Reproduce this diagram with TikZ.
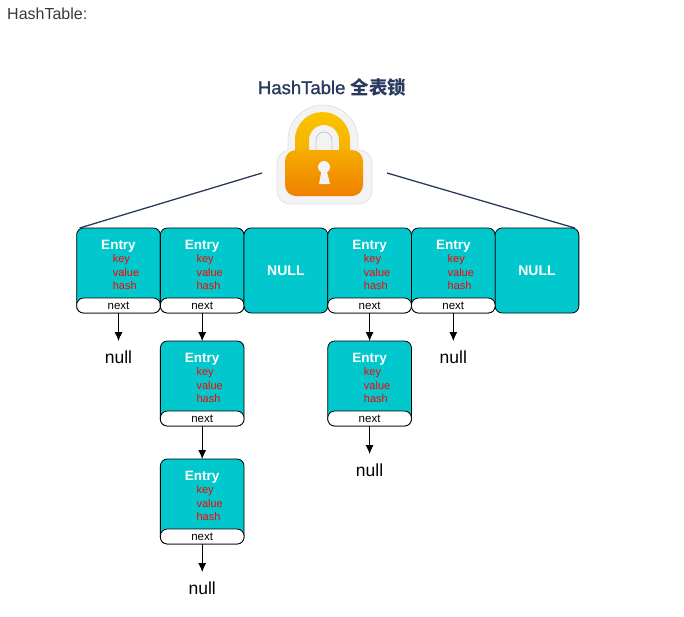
\documentclass[tikz,border=0pt]{standalone}
\usepackage{fontspec}
\setmainfont{Liberation Sans}
\newfontfamily\cjk{Noto Sans CJK SC}
\newfontfamily\titlefont[FakeBold=1.2]{Liberation Sans}
\usetikzlibrary{positioning,arrows.meta}
\definecolor{bucketteal}{HTML}{00C8CC}
\definecolor{titleblue}{HTML}{2A3A5E}
\definecolor{lockhalo}{HTML}{F3F3F5}
\definecolor{lockedge}{HTML}{DDDDE0}
\definecolor{shackletop}{HTML}{FAC400}
\definecolor{shacklelow}{HTML}{F6B000}
\definecolor{lockmid}{HTML}{F6AC00}
\definecolor{locklow}{HTML}{EE8000}
\newcommand{\entrybox}[2]{
	\node [bucket,#2] (#1) {};
	\node [nextbox,anchor=south] (#1n) at (#1.south) {next};
	\node [headtext] (#1h) at ([yshift=-18pt]#1.north) {Entry};
	\node [fieldtext] (#1k) at ([xshift=36pt,yshift=-32pt]#1.north west) {key};
	\node [fieldtext] (#1v) at ([xshift=36pt,yshift=-45pt]#1.north west) {value};
	\node [fieldtext] (#1s) at ([xshift=36pt,yshift=-58pt]#1.north west) {hash};
}
\tikzset{
	bucket/.style = {shape=rectangle, rounded corners=7pt, draw=black, fill=bucketteal, line width=0.8pt, minimum width=83.7pt, minimum height=85pt, outer sep=0pt, inner sep=0pt},
	nextbox/.style = {shape=rectangle, rounded corners=7pt, draw=black, fill=white, line width=0.8pt, minimum width=83.7pt, minimum height=15pt, outer sep=0pt, inner sep=0pt, font=\fontsize{11.5pt}{12pt}\selectfont},
	headtext/.style = {text=white, inner sep=0pt, font=\fontsize{13.5pt}{15pt}\selectfont\bfseries},
	fieldtext/.style = {text=red, anchor=west, inner sep=0pt, font=\fontsize{11pt}{12pt}\selectfont},
	nulltext/.style = {anchor=north, minimum height=32pt, inner sep=0pt, font=\fontsize{17.5pt}{18pt}\selectfont},
	link/.style = {draw=black, line width=0.8pt, -{Latex[length=9pt,width=8pt]}},
	spoke/.style = {draw=titleblue, line width=1.3pt}
}
\begin{document}
\begin{tikzpicture}[x=1pt,y=-1pt]
	\useasboundingbox (0,0) rectangle (684,616);
	\node [anchor=west, inner sep=0pt, text=black!78, font=\fontsize{16pt}{17pt}\selectfont] (caption) at (7,14) {HashTable:};
	\node [inner sep=0pt, text=titleblue, font=\fontsize{18.5pt}{20pt}\selectfont] (title) at (332,87) {\titlefont HashTable {\cjk\bfseries 全表锁}};

	% lock
	\node [rounded corners=13pt, fill=lockhalo, draw=lockedge, line width=0.6pt, minimum width=95pt, minimum height=54pt, outer sep=0pt] (lockbox) at (324.5,177) {};
	\fill [lockhalo] (288,155) -- (288,140) arc [start angle=180, end angle=360, radius=35] -- (358,155) -- cycle;
	\draw [lockedge, line width=0.6pt] (288,150) -- (288,140) arc [start angle=180, end angle=360, radius=35] -- (358,150);
	\shade [top color=shackletop, bottom color=shacklelow] (295,152) -- (295,139.5) arc [start angle=180, end angle=360, radius=27.5] -- (350,152) -- (339,152) -- (339,140) arc [start angle=0, end angle=-180, radius=15] -- (309,152) -- cycle;
	\draw [black!22, line width=0.8pt] (316,150) -- (316,140) arc [start angle=180, end angle=360, radius=8] -- (332,150);
	\shade [rounded corners=11pt, top color=lockmid, bottom color=locklow] (285,150) rectangle (363,196);
	\fill [lockhalo] (324,167) circle [radius=6];
	\fill [lockhalo] (322,168) -- (326,168) -- (330,184) -- (319,184) -- cycle;

	% table
	\entrybox{e1}{at={(118.5,270.5)}}
	\entrybox{e2}{right=0pt of e1}
	\node [bucket, right=0pt of e2, text=white, font=\fontsize{14pt}{15pt}\selectfont\bfseries] (e3) {NULL};
	\entrybox{e4}{right=0pt of e3}
	\entrybox{e5}{right=0pt of e4}
	\node [bucket, right=0pt of e5, text=white, font=\fontsize{14pt}{15pt}\selectfont\bfseries] (e6) {NULL};

	% chains
	\entrybox{f2}{below=28pt of e2}
	\entrybox{g2}{below=33pt of f2}
	\entrybox{f4}{below=28pt of e4}

	\node [nulltext, below=28pt of e1] (null1) {null};
	\node [nulltext, below=28pt of e5] (null5) {null};
	\node [nulltext, below=28pt of g2] (null2) {null};
	\node [nulltext, below=28pt of f4] (null4) {null};

	\draw [link] (e1n) -- (null1);
	\draw [link] (e2n) -- (f2);
	\draw [link] (f2n) -- (g2);
	\draw [link] (g2n) -- (null2);
	\draw [link] (e4n) -- (f4);
	\draw [link] (f4n) -- (null4);
	\draw [link] (e5n) -- (null5);

	\coordinate (spokel) at ([xshift=-15pt,yshift=4pt]lockbox.west);
	\coordinate (spoker) at ([xshift=15pt,yshift=4pt]lockbox.east);
	\draw [spoke] (spokel) -- ([xshift=3pt]e1.north west);
	\draw [spoke] (spoker) -- ([xshift=-4pt]e6.north east);
\end{tikzpicture}
\end{document}
